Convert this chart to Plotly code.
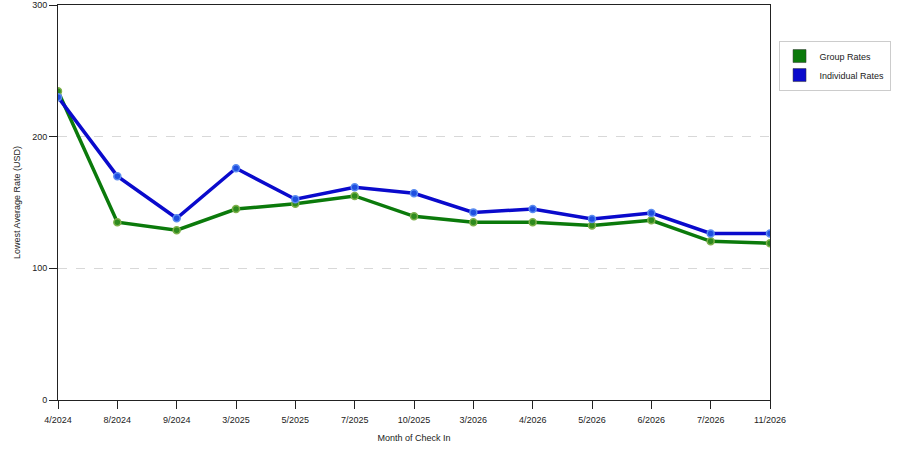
import plotly.graph_objects as go

months = ["4/2024", "8/2024", "9/2024", "3/2025", "5/2025", "7/2025", "10/2025",
          "3/2026", "4/2026", "5/2026", "6/2026", "7/2026", "11/2026"]
group_rates = [234.5, 135, 129, 145, 149, 155, 139.5, 135, 135, 132.5, 136.5, 120.5, 119]
individual_rates = [230, 170, 138, 176, 152.5, 161.5, 157, 142.5, 145, 137.5, 142, 126.5, 126.5]

GREEN = "#0B7A0B"
BLUE = "#0A0ACC"
FONT = "Liberation Sans"

fig = go.Figure()

# real lines (legend handled by square dummies below)
fig.add_trace(go.Scatter(
    x=months, y=group_rates, mode="lines+markers", showlegend=False,
    line=dict(color=GREEN, width=3.5),
    marker=dict(color="#2E8B1E", size=7, line=dict(color="#7DB04A", width=1.5)),
))
fig.add_trace(go.Scatter(
    x=months, y=individual_rates, mode="lines+markers", showlegend=False,
    line=dict(color=BLUE, width=3.5),
    marker=dict(color="#1F4FE0", size=7, line=dict(color="#5B8CF0", width=1.5)),
))

# legend squares
for name, col in [("Group Rates", GREEN), ("Individual Rates", BLUE)]:
    fig.add_trace(go.Scatter(
        x=[None], y=[None], mode="markers", name=name,
        marker=dict(symbol="square", size=13, color=col, line=dict(color="#333", width=0.5)),
    ))

fig.update_layout(
    width=900, height=450,
    margin=dict(l=58, r=130, t=5, b=50, autoexpand=False),
    paper_bgcolor="white", plot_bgcolor="white",
    font=dict(family=FONT, size=9, color="#222"),
    legend=dict(
        x=1.012, y=0.91, xanchor="left", yanchor="top",
        bgcolor="white", bordercolor="#CCCCCC", borderwidth=1,
        font=dict(size=9), itemwidth=30, tracegroupgap=2,
    ),
)
fig.update_xaxes(
    type="category", range=[0, len(months) - 1], automargin=False,
    showline=True, linecolor="#222", linewidth=1, mirror=True,
    ticks="outside", ticklen=8, tickcolor="#222", showgrid=False,
    ticklabelstandoff=3,
    title=dict(text="Month of Check In", font=dict(size=9), standoff=10),
)
fig.update_yaxes(
    range=[0, 300], tickvals=[0, 100, 200, 300], automargin=False,
    showline=True, linecolor="#222", linewidth=1, mirror=True,
    ticks="outside", ticklen=8, tickcolor="#222",
    showgrid=True, gridcolor="#D8D8D8", griddash="dash", zeroline=False,
    title=dict(text="Lowest Average Rate (USD)", font=dict(size=9), standoff=10),
)

fig.write_html("out.html", config={"displayModeBar": False},
               post_script="document.body.style.margin='0';")
